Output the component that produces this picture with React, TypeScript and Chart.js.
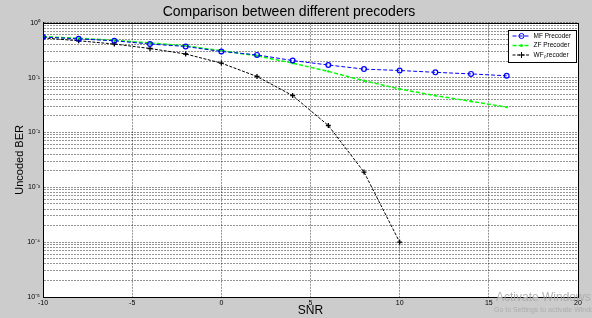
import React, { useEffect, useRef } from 'react';
import { Chart, registerables } from 'chart.js';

Chart.register(...registerables);

const snrMF = [-10, -8, -6, -4, -2, 0, 2, 4, 6, 8, 10, 12, 14, 16];
const berMF = [0.55, 0.51, 0.47, 0.41, 0.37, 0.30, 0.26, 0.205, 0.17, 0.143, 0.135, 0.125, 0.117, 0.108];
const snrZF = [-10, -8, -6, -4, -2, 0, 2, 4, 6, 8, 10, 12, 14, 16];
const berZF = [0.56, 0.52, 0.48, 0.43, 0.38, 0.31, 0.25, 0.184, 0.13, 0.088, 0.062, 0.047, 0.037, 0.029];
const snrWF = [-10, -8, -6, -4, -2, 0, 2, 4, 6, 8, 10];
const berWF = [0.53, 0.47, 0.41, 0.34, 0.27, 0.184, 0.105, 0.047, 0.0134, 0.0019, 0.0001];

const seriesLabels = ['MF Precoder', 'ZF Precoder', 'WF\u209Arecoder'];
const xTicks = [-10, -5, 0, 5, 10, 15, 20];
const yDecades = [-5, -4, -3, -2, -1, 0];
const supers: Record<string, string> = { '-': '\u207B', '0': '\u2070', '1': '\u00B9', '2': '\u00B2', '3': '\u00B3', '4': '\u2074', '5': '\u2075' };

const FONT = '"Liberation Sans", Arial, sans-serif';

const pts = (xs: number[], ys: number[]) => xs.map((x, i) => ({ x, y: ys[i] }));

const framePlugin = {
  id: 'frame',
  beforeDraw(chart: any) {
    const { ctx, chartArea: a, width, height } = chart;
    ctx.save();
    ctx.fillStyle = '#cccccc';
    ctx.fillRect(0, 0, width, height);
    ctx.fillStyle = '#ffffff';
    ctx.fillRect(a.left, a.top, a.right - a.left, a.bottom - a.top);
    ctx.restore();
  },
  afterDraw(chart: any) {
    const { ctx, chartArea: a } = chart;
    ctx.save();
    ctx.strokeStyle = '#000';
    ctx.lineWidth = 1;
    ctx.strokeRect(Math.round(a.left) + 0.5, Math.round(a.top) + 0.5, Math.round(a.right - a.left), Math.round(a.bottom - a.top));
    // legend
    const bx = Math.round(a.right - 70) + 0.5, by = Math.round(a.top + 7) + 0.5, bw = 68, bh = 32;
    ctx.fillStyle = '#fff';
    ctx.fillRect(bx, by, bw, bh);
    ctx.strokeStyle = '#000';
    ctx.strokeRect(bx, by, bw, bh);
    chart.data.datasets.forEach((ds: any, i: number) => {
      const y = by + 5.5 + i * 9.5;
      ctx.strokeStyle = ds.borderColor;
      ctx.lineWidth = ds.borderWidth;
      ctx.setLineDash(ds.borderDash || []);
      ctx.beginPath();
      ctx.moveTo(bx + 4, y);
      ctx.lineTo(bx + 22, y);
      ctx.stroke();
      ctx.setLineDash([]);
      const mx = bx + 13;
      ctx.lineWidth = 1;
      if (ds.pointStyle === 'circle' && ds.pointRadius > 2) {
        ctx.beginPath();
        ctx.arc(mx, y, 2.5, 0, Math.PI * 2);
        ctx.stroke();
      } else if (ds.pointStyle === 'cross') {
        ctx.beginPath();
        ctx.moveTo(mx - 3, y); ctx.lineTo(mx + 3, y);
        ctx.moveTo(mx, y - 3); ctx.lineTo(mx, y + 3);
        ctx.stroke();
      } else {
        ctx.fillStyle = ds.borderColor;
        ctx.beginPath();
        ctx.arc(mx, y, 1.5, 0, Math.PI * 2);
        ctx.fill();
      }
      ctx.fillStyle = '#000';
      ctx.font = '6.5px ' + FONT;
      ctx.textBaseline = 'middle';
      ctx.textAlign = 'left';
      ctx.fillText(ds.label, bx + 25, y);
    });
    // OS watermark
    ctx.fillStyle = 'rgba(170,170,170,0.9)';
    ctx.font = '12px ' + FONT;
    ctx.textAlign = 'left';
    ctx.textBaseline = 'middle';
    ctx.fillText('Activate Windows', 496, 298);
    ctx.font = '7px ' + FONT;
    ctx.fillText('Go to Settings to activate Windows.', 494, 310);
    ctx.restore();
  },
};

export default function App() {
  const ref = useRef<HTMLCanvasElement | null>(null);
  useEffect(() => {
    document.body.style.margin = '0';
    const yTickVals: number[] = [];
    yDecades.forEach((e) => {
      if (e === 0) { yTickVals.push(1); return; }
      for (let m = 1; m <= 9; m++) yTickVals.push(parseFloat((m * Math.pow(10, e)).toPrecision(3)));
    });
    const chart = new Chart(ref.current!, {
      type: 'line',
      data: {
        datasets: [
          {
            label: seriesLabels[0], data: pts(snrMF, berMF), borderColor: '#0000ff', backgroundColor: 'rgba(0,0,0,0)',
            borderWidth: 1, borderDash: [4, 2], pointStyle: 'circle', pointRadius: 2.4, pointBorderWidth: 1.2, pointBorderColor: '#0000ff',
          },
          {
            label: seriesLabels[1], data: pts(snrZF, berZF), borderColor: '#00ff00', backgroundColor: '#00ff00',
            borderWidth: 1.5, borderDash: [4, 2], pointStyle: 'circle', pointRadius: 1.2, pointBorderWidth: 0,
          },
          {
            label: seriesLabels[2], data: pts(snrWF, berWF), borderColor: '#000000', backgroundColor: '#000',
            borderWidth: 1, borderDash: [3, 1.5], pointStyle: 'cross', pointRadius: 2.5, pointBorderWidth: 1.3, pointBorderColor: '#000',
          },
        ],
      },
      options: {
        animation: false,
        responsive: false,
        devicePixelRatio: 1,
        layout: { padding: { top: 0, right: 14, left: 0, bottom: 0 } },
        plugins: {
          legend: { display: false },
          tooltip: { enabled: false },
          title: {
            display: true, text: 'Comparison between different precoders', color: '#000',
            font: { family: FONT, size: 14, weight: 'normal' }, padding: { top: 4, bottom: 2 },
          },
        },
        scales: {
          x: {
            type: 'linear', min: -10, max: 20,
            afterBuildTicks: (s: any) => { s.ticks = xTicks.map((v) => ({ value: v })); },
            afterFit: (s: any) => { s.height = 21; },
            ticks: { color: '#000', font: { family: FONT, size: 7 }, padding: 2, maxRotation: 0, autoSkip: false },
            grid: { color: 'rgba(0,0,0,0.42)', drawTicks: false },
            border: { display: true, color: '#000', dash: [2, 1] },
            title: { display: true, text: 'SNR', color: '#000', font: { family: FONT, size: 12 }, padding: { top: 0, bottom: 0 } },
          },
          y: {
            type: 'logarithmic', min: 1e-5, max: 1,
            afterBuildTicks: (s: any) => { s.ticks = yTickVals.map((v) => ({ value: v })); },
            afterFit: (s: any) => { s.width = 43; },
            ticks: {
              color: '#000', font: { family: FONT, size: 7 }, padding: 3, autoSkip: false,
              callback: (v: any) => {
                const e = Math.log10(Number(v));
                if (Math.abs(e - Math.round(e)) > 1e-6) return '';
                const s = String(Math.round(e)).split('').map((c) => supers[c]).join('');
                return '10' + s;
              },
            },
            grid: { color: 'rgba(0,0,0,0.42)', drawTicks: false },
            border: { display: true, color: '#000', dash: [2, 1] },
            title: { display: true, text: 'Uncoded BER', color: '#000', font: { family: FONT, size: 11 }, padding: { top: 13, bottom: 0 } },
          },
        },
      } as any,
      plugins: [framePlugin],
    });
    return () => chart.destroy();
  }, []);
  return (
    <div style={{ width: 592, height: 318 }}>
      <canvas ref={ref} width={592} height={318} style={{ display: 'block', width: 592, height: 318 }} />
    </div>
  );
}
